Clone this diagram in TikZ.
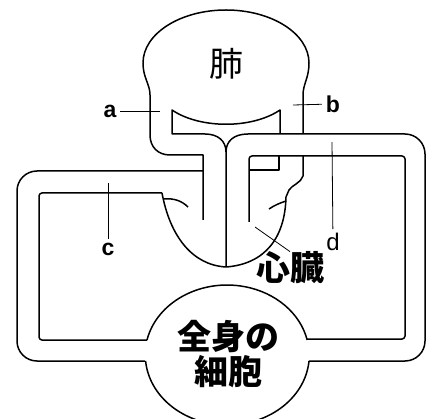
\documentclass[tikz,border=0pt]{standalone}
\usepackage{fontspec}
\usepackage{tikz}
\usetikzlibrary{positioning}
\newfontfamily\jpfont{Noto Sans CJK JP}
\newfontfamily\latinfont{Liberation Sans}
\tikzstyle{vessel} = [line width=1.5pt, line join=round]
\tikzstyle{leader} = [line width=0.8pt]
\tikzstyle{letter} = [inner sep=1pt, outer sep=3pt, font=\latinfont\fontsize{23}{23}\selectfont\bfseries]
\tikzstyle{organ} = [inner sep=0pt, font=\jpfont\fontsize{34}{35}\selectfont\bfseries]

\begin{document}
\begin{tikzpicture}[x=1pt, y=-1pt]
\useasboundingbox (0,0) rectangle (433,419);

% Lung with the vessel on its left
\draw[vessel] (203,220) -- (203,155) -- (170,155) .. controls (158,155) and (150,147) .. (150,135) -- (150,95)
  .. controls (150,84) and (143,78) .. (143,63) arc[start angle=180, end angle=360, x radius=83, y radius=53]
  .. controls (309,78) and (303,84) .. (303,95) -- (303,134);
\draw[vessel] (280,134) -- (280,110) .. controls (252,129) and (200,129) .. (172,110) -- (172,134) -- (205,134)
  .. controls (218,134) and (226,141) .. (226,152) -- (226,267);
\draw[vessel] (226,152) .. controls (226,141) and (234,134) .. (248,134);

% Right loop
\draw[vessel, rounded corners=20] (248,134) -- (425,134) -- (425,361) -- (309,361);
\draw[vessel, rounded corners=3] (249,222) -- (249,156) -- (405,156) -- (405,339) -- (307,339);
\draw[vessel] (249,170) -- (279,170) -- (279,156);

% Heart
\draw[vessel] (303,156) -- (303,176) .. controls (301,183) and (292,185) .. (289,190) -- (286,197)
  .. controls (285,238) and (265,264) .. (226,267) .. controls (192,265) and (170,236) .. (162,193);
\draw[vessel] (164,199) .. controls (174,198) and (182,201) .. (188,207);
\draw[vessel] (269,209) .. controls (275,205) and (280,203) .. (286,201);

% Left loop
\draw[vessel, rounded corners=20] (203,171) -- (17,171) -- (17,361) -- (145,361);
\draw[vessel, rounded corners=3] (162,193) -- (39,193) -- (39,340) -- (147,340);

% Body cells
\draw[vessel] (147,340) arc[start angle=192.4, end angle=347.6, x radius=82, y radius=70];
\draw[vessel] (309,361) arc[start angle=4.9, end angle=175.1, x radius=82, y radius=70];

% Names
\node (lung) [organ, font=\jpfont\fontsize{34}{34}\selectfont] at (226,64) {肺};
\node (heart) [organ] at (290,268) {心臓};
\node (body) [organ, align=center] at (228,354) {全身の\\細胞};

% Labels
\node (la) [letter] at (110,111) {a};
\node (lb) [letter] at (333,104) {b};
\node (lc) [letter] at (108,249) {c};
\node (ld) [letter, font=\latinfont\fontsize{24}{24}\selectfont] at (333,242) {d};
\coordinate (la end) at (160,111);
\coordinate (lb end) at (293,105);
\coordinate (lc end) at (108,183);
\coordinate (ld end) at (332,142);
\coordinate (heart end) at (255,227);
\draw[leader] (la) -- (la end);
\draw[leader] (lb end) -- (lb);
\draw[leader] (lc end) -- (lc);
\draw[leader] (ld end) -- (ld);
\draw[leader] (heart end) -- (heart.north);
\end{tikzpicture}
\end{document}
